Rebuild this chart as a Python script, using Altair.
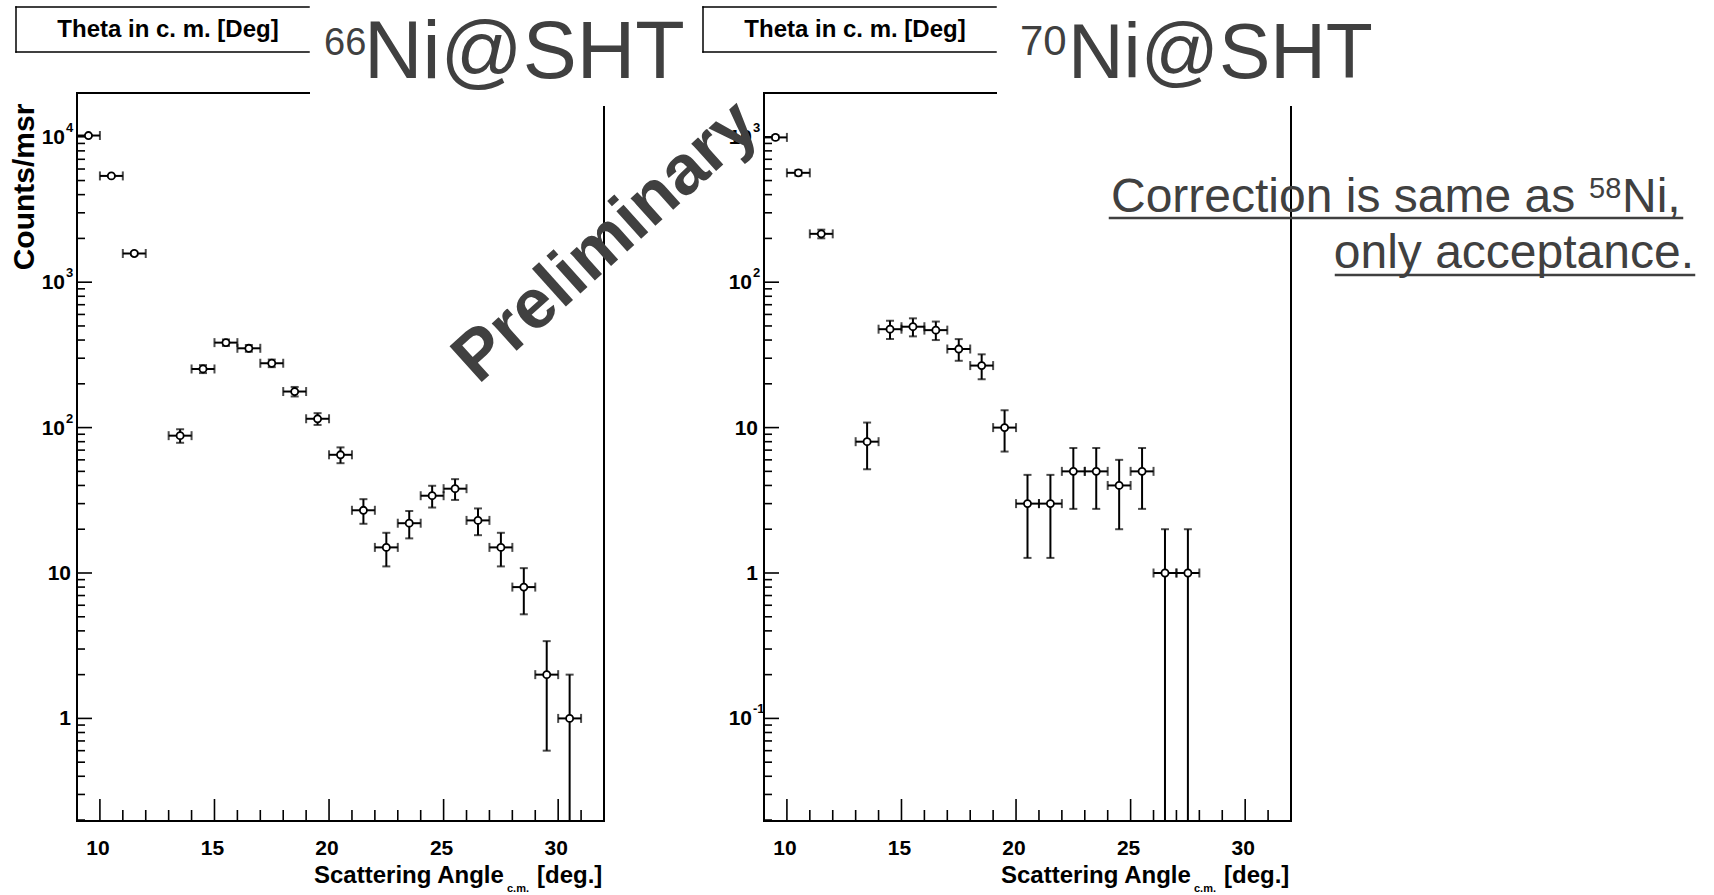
import altair as alt
import pandas as pd

# ---------------- data ----------------
ANGLES_66 = [9.5, 10.5, 11.5, 13.5, 14.5, 15.5, 16.5, 17.5, 18.5, 19.5, 20.5,
             21.5, 22.5, 23.5, 24.5, 25.5, 26.5, 27.5, 28.5, 29.5, 30.5]
COUNTS_66 = [10200, 5380, 1575, 88, 253, 384, 351, 277, 177, 115, 65,
             27, 15, 22, 34, 38, 23, 15, 8, 2, 1]
ERRORS_66 = [101, 73, 40, 9.4, 15.9, 19.6, 18.7, 16.6, 13.3, 10.7, 8.1,
             5.2, 3.9, 4.7, 5.8, 6.2, 4.8, 3.9, 2.8, 1.4, 1.0]

ANGLES_70 = [9.5, 10.5, 11.5, 13.5, 14.5, 15.5, 16.5, 17.5, 18.5, 19.5,
             20.5, 21.5, 22.5, 23.5, 24.5, 25.5, 26.5, 27.5]
COUNTS_70 = [990, 565, 215, 8, 47.5, 49.4, 46.8, 34.7, 26.7, 10,
             3, 3, 5, 5, 4, 5, 1, 1]
ERRORS_70 = [31, 23.8, 14.7, 2.83, 6.9, 7.0, 6.8, 5.9, 5.2, 3.16,
             1.73, 1.73, 2.24, 2.24, 2.0, 2.24, 1.0, 1.0]

BIN_HALF_WIDTH = 0.5
X_DOMAIN = [9, 32]
Y_DOMAIN_66 = [0.197, 2.0e4]
Y_DOMAIN_70 = [0.0197, 2.0e3]

X_MAJOR = [10, 15, 20, 25, 30]
X_MINOR = [11, 12, 13, 14, 16, 17, 18, 19, 21, 22, 23, 24, 26, 27, 28, 29, 31]

Y_LABELS_66 = [(1e4, "10", "4"), (1e3, "10", "3"), (1e2, "10", "2"), (10, "10", ""), (1, "1", "")]
Y_LABELS_70 = [(1e3, "10", "3"), (1e2, "10", "2"), (10, "10", ""), (1, "1", ""), (0.1, "10", "-1")]

# ---------------- styling ----------------
FONT = "Liberation Sans, Arial, Helvetica, sans-serif"
GREY = "#404040"
W, H = 527, 728

one = pd.DataFrame({"k": [0]})


def text(txt, x, y, size, weight="normal", align="left", baseline="alphabetic",
         color="black", angle=None):
    kw = dict(text=txt, fontSize=size, fontWeight=weight, align=align,
              baseline=baseline, color=color, font=FONT)
    if angle is not None:
        kw["angle"] = angle
    return alt.Chart(one).mark_text(**kw).encode(x=alt.value(x), y=alt.value(y))


def hline(x1, x2, y, w=2.0, color="black"):
    return alt.Chart(one).mark_rule(color=color, strokeWidth=w, strokeCap="square").encode(
        x=alt.value(x1), x2=alt.value(x2), y=alt.value(y))


def vline(x, y1, y2, w=2.0, color="black"):
    return alt.Chart(one).mark_rule(color=color, strokeWidth=w, strokeCap="square").encode(
        x=alt.value(x), y=alt.value(y1), y2=alt.value(y2))


def minor_decades(lo, hi):
    vals = []
    for n in range(-3, 6):
        for k in range(2, 10):
            v = k * 10.0 ** n
            if lo < v < hi * 0.98:
                vals.append(v)
    return vals


def panel(angles, counts, errors, ydom, ylabels, sup, sup_x, sup_size, main_x, main_size,
          extra=()):
    xs = alt.Scale(domain=X_DOMAIN, nice=False, zero=False)
    ys = alt.Scale(type="log", domain=ydom, nice=False)

    def X(f):
        return alt.X(f"{f}:Q", scale=xs, axis=None)

    def Y(f):
        return alt.Y(f"{f}:Q", scale=ys, axis=None)

    df = pd.DataFrame({"x": angles, "v": counts, "e": errors})
    df["hi"] = df["v"] + df["e"]
    df["lo_raw"] = df["v"] - df["e"]
    df["lo"] = df["lo_raw"].clip(lower=ydom[0])
    df["xl"] = df["x"] - BIN_HALF_WIDTH
    df["xh"] = df["x"] + BIN_HALF_WIDTH
    df_locap = df[df["lo_raw"] > ydom[0]]

    ymaj = pd.DataFrame({"v": [d for d in [0.1, 1, 10, 100, 1e3, 1e4] if ydom[0] < d < ydom[1]]})
    ymin = pd.DataFrame({"v": minor_decades(ydom[0], ydom[1])})
    xmaj = pd.DataFrame({"v": X_MAJOR, "lab": [str(v) for v in X_MAJOR]})
    xmin = pd.DataFrame({"v": X_MINOR})
    ylab = pd.DataFrame(ylabels, columns=["v", "base", "exp"])
    ylab_exp = ylab[ylab["exp"] != ""]
    ylab_plain = ylab[ylab["exp"] == ""]

    layers = [
        # frame
        hline(0, W, H), vline(0, 0, H),
        hline(0, 232, 0), vline(W, 14, H),
        # ticks
        alt.Chart(xmaj).mark_rule(color="black", strokeWidth=1.6).encode(
            x=X("v"), y=alt.value(H), y2=alt.value(H - 22)),
        alt.Chart(xmin).mark_rule(color="black", strokeWidth=1.6).encode(
            x=X("v"), y=alt.value(H), y2=alt.value(H - 11)),
        alt.Chart(ymaj).mark_rule(color="black", strokeWidth=1.6).encode(
            x=alt.value(0), x2=alt.value(15), y=Y("v")),
        alt.Chart(ymin).mark_rule(color="black", strokeWidth=1.6).encode(
            x=alt.value(0), x2=alt.value(8), y=Y("v")),
        # tick labels
        alt.Chart(xmaj).mark_text(font=FONT, fontSize=21, fontWeight="bold", baseline="top",
                                  align="center", dx=-2).encode(
            x=X("v"), y=alt.value(H + 17), text="lab:N"),
        alt.Chart(ylab_exp).mark_text(font=FONT, fontSize=21, fontWeight="bold",
                                      baseline="middle", align="right", dy=1).encode(
            x=alt.value(-12), y=Y("v"), text="base:N"),
        alt.Chart(ylab_exp).mark_text(font=FONT, fontSize=13, fontWeight="bold",
                                      baseline="middle", align="left", dy=-9).encode(
            x=alt.value(-11), y=Y("v"), text="exp:N"),
        alt.Chart(ylab_plain).mark_text(font=FONT, fontSize=21, fontWeight="bold",
                                        baseline="middle", align="right", dy=1).encode(
            x=alt.value(-6), y=Y("v"), text="base:N"),
        # x axis title
        text("Scattering Angle", 237, 790, 24, "bold"),
        text("c.m.", 430, 799, 11, "bold"),
        text("[deg.]", 460, 790, 24, "bold"),
        # ROOT title box
        hline(-61, 232, -86, 1.5), hline(-61, 232, -41, 1.5), vline(-61, -86, -41, 1.5),
        text("Theta in c. m. [Deg]", 91, -63, 24, "bold", "center", "middle"),
        # slide title
        text(sup, sup_x, -38, sup_size, color=GREY),
        text("Ni@SHT", main_x, -15, main_size, color=GREY),
        # data: error bars and markers
        alt.Chart(df).mark_rule(color="black", strokeWidth=2).encode(
            x=X("x"), y=Y("lo"), y2=alt.Y2("hi")),
        alt.Chart(df).mark_rule(color="black", strokeWidth=2).encode(
            x=X("xl"), x2=alt.X2("xh"), y=Y("v")),
        alt.Chart(df).mark_tick(orient="horizontal", size=8, thickness=2, color="black").encode(
            x=X("x"), y=Y("hi")),
        alt.Chart(df_locap).mark_tick(orient="horizontal", size=8, thickness=2, color="black").encode(
            x=X("x"), y=Y("lo")),
        alt.Chart(df).mark_tick(orient="vertical", size=9, thickness=2, color="black").encode(
            x=X("xl"), y=Y("v")),
        alt.Chart(df).mark_tick(orient="vertical", size=9, thickness=2, color="black").encode(
            x=X("xh"), y=Y("v")),
        alt.Chart(df).mark_point(shape="circle", filled=True, fill="white", stroke="black",
                                 strokeWidth=1.8, size=50, opacity=1).encode(
            x=X("x"), y=Y("v")),
    ]
    layers.extend(extra)
    return alt.layer(*layers).properties(width=W, height=H)


anchor = alt.Chart(one).mark_rect(color="white").encode(
    x=alt.value(-77), x2=alt.value(-76), y=alt.value(-93), y2=alt.value(-92))

left_extra = [
    anchor,
    text("Counts/msr", -52, 94, 30, "bold", "center", "middle", angle=270),
]

left = panel(ANGLES_66, COUNTS_66, ERRORS_66, Y_DOMAIN_66, Y_LABELS_66,
             "66", 247, 38, 287, 81, extra=left_extra)

right_extra = [
    text("Correction is same as", 347, 119, 48, color=GREY),
    text("58", 825, 105, 29, color=GREY),
    text("Ni,", 858, 119, 48, color=GREY),
    hline(346, 918, 125, 2.5, GREY),
    text("only acceptance.", 930, 175, 48, align="right", color=GREY),
    hline(572, 930, 182, 2.5, GREY),
    text("Preliminary", -158, 149, 70, "bold", "center", "middle", color=GREY, angle=318),
]

right = panel(ANGLES_70, COUNTS_70, ERRORS_70, Y_DOMAIN_70, Y_LABELS_70,
              "70", 256, 42, 304, 77, extra=right_extra)

chart = alt.hconcat(left, right, spacing=160, bounds="flush").properties(
    padding=0, background="white").configure_view(stroke=None)

chart.save("out.html", embed_options={"renderer": "svg", "actions": False})
